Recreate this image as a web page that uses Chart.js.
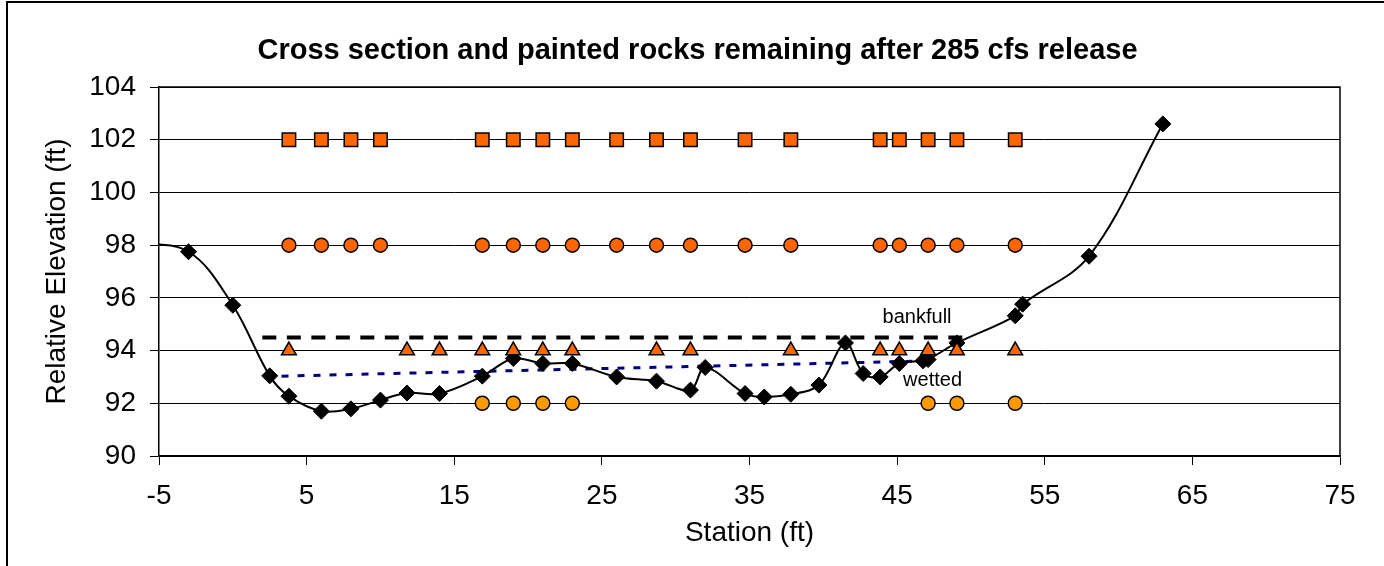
<!DOCTYPE html>
<html>
<head>
<meta charset="utf-8">
<title>Cross section and painted rocks</title>
<script src="https://cdn.jsdelivr.net/npm/chart.js@4/dist/chart.umd.min.js"></script>
<style>
  html, body { margin: 0; padding: 0; background: #fff; }
  #chart { display: block; }
</style>
</head>
<body>
<canvas id="chart" width="1384" height="566"></canvas>
<script>
// Surveyed cross section (station ft / relative elevation ft)
const groundStation = [-7, -3, 0, 2.5, 3.8, 6, 8, 10, 11.8, 14, 16.9, 19, 21, 23, 26, 28.7, 31, 32, 34.7, 36,
  37.8, 39.7, 41.5, 42.7, 43.85, 45.15, 46.75, 47.1, 49.05, 53, 53.5, 58, 63];
const groundElev = [98.1, 97.75, 95.72, 93.04, 92.27, 91.7, 91.79, 92.12, 92.39, 92.37, 93.03, 93.7, 93.51, 93.51, 93.0, 92.84, 92.5, 93.36, 92.37, 92.24,
  92.34, 92.69, 94.29, 93.13, 93.0, 93.51, 93.61, 93.66, 94.29, 95.32, 95.76, 97.58, 102.6];

// Painted rocks still in place, plotted in rows
const rockRowElev = [102, 98, 94, 92];
const rocksRow102 = [3.8, 6, 8, 10, 16.9, 19, 21, 23, 26, 28.7, 31, 34.7, 37.8, 43.85, 45.15, 47.1, 49.05, 53];
const rocksRow98 = [3.8, 6, 8, 10, 16.9, 19, 21, 23, 26, 28.7, 31, 34.7, 37.8, 43.85, 45.15, 47.1, 49.05, 53];
const rocksRow94 = [3.8, 11.8, 14, 16.9, 19, 21, 23, 28.7, 31, 37.8, 43.85, 45.15, 47.1, 49.05, 53];
const rocksRow92 = [16.9, 19, 21, 23, 47.1, 49.05, 53];

// Water surface lines
const bankfullStation = [2.0, 49.5];
const bankfullElev = [94.5, 94.5];
const wettedStation = [3.3, 46.4];
const wettedElev = [93.03, 93.6];

// Axis ranges
const xTicks = { min: -5, max: 75, step: 10 };
const yTicks = { min: 90, max: 104, step: 2 };

const FONT = "'Liberation Sans', Arial, Helvetica, sans-serif";

function pairs(xs, ys) {
  return xs.map((x, i) => ({ x, y: Array.isArray(ys) ? ys[i] : ys }));
}

function rockSet(xs, elev, style, color, radius) {
  return {
    data: pairs(xs, elev),
    showLine: false,
    pointStyle: style,
    pointRadius: radius,
    pointBackgroundColor: color,
    pointBorderColor: '#000',
    pointBorderWidth: 1.5,
    order: 1
  };
}

// outer frame, plot frame and the two line labels
const framePlugin = {
  id: 'frame',
  beforeDraw(chart) {
    const ctx = chart.ctx;
    ctx.save();
    ctx.fillStyle = '#fff';
    ctx.fillRect(0, 0, chart.width, chart.height);
    ctx.strokeStyle = '#000';
    ctx.lineWidth = 2;
    ctx.beginPath();
    ctx.moveTo(7, chart.height);
    ctx.lineTo(7, 2);
    ctx.lineTo(chart.width, 2);
    ctx.stroke();
    ctx.restore();
  },
  beforeDatasetsDraw(chart) {
    const { ctx, chartArea } = chart;
    ctx.save();
    ctx.strokeStyle = '#000';
    ctx.lineWidth = 1.5;
    ctx.beginPath();
    ctx.moveTo(chartArea.left, chartArea.top);
    ctx.lineTo(chartArea.right, chartArea.top);
    ctx.lineTo(chartArea.right, chartArea.bottom);
    ctx.stroke();
    ctx.restore();
  },
  afterDatasetsDraw(chart) {
    const { ctx, scales } = chart;
    ctx.save();
    ctx.fillStyle = '#000';
    ctx.font = '20px ' + FONT;
    ctx.textAlign = 'center';
    ctx.textBaseline = 'middle';
    ctx.fillText('bankfull', scales.x.getPixelForValue(46.35), scales.y.getPixelForValue(95.27));
    ctx.fillText('wetted', scales.x.getPixelForValue(47.4), scales.y.getPixelForValue(92.87));
    ctx.restore();
  }
};

const ctx = document.getElementById('chart').getContext('2d');
new Chart(ctx, {
  type: 'scatter',
  data: {
    datasets: [
      {
        label: 'Ground',
        data: pairs(groundStation, groundElev),
        showLine: true,
        borderColor: '#000',
        borderWidth: 2,
        tension: 0.35,
        pointStyle: 'rectRot',
        pointRadius: (c) => (c.raw && c.raw.x < xTicks.min ? 0 : 8),
        pointBackgroundColor: '#000',
        pointBorderColor: '#000',
        pointBorderWidth: 1,
        order: 2
      },
      {
        label: 'Bankfull',
        data: pairs(bankfullStation, bankfullElev),
        showLine: true,
        borderColor: '#000',
        borderWidth: 4,
        borderDash: [14, 10.5],
        pointRadius: 0,
        order: 4
      },
      {
        label: 'Wetted',
        data: pairs(wettedStation, wettedElev),
        showLine: true,
        borderColor: '#000080',
        borderWidth: 3,
        borderDash: [7, 9],
        pointRadius: 0,
        order: 3
      },
      rockSet(rocksRow102, rockRowElev[0], 'rect', '#FF6600', 9.5),
      rockSet(rocksRow98, rockRowElev[1], 'circle', '#FF6600', 7),
      rockSet(rocksRow94, rockRowElev[2], 'triangle', '#FF6600', 8.5),
      rockSet(rocksRow92, rockRowElev[3], 'circle', '#FF9900', 7)
    ]
  },
  options: {
    responsive: false,
    animation: false,
    events: [],
    layout: { padding: { left: 55, right: 44, top: 0, bottom: 0 } },
    plugins: {
      legend: { display: false },
      tooltip: { enabled: false },
      title: {
        display: true,
        text: 'Cross section and painted rocks remaining after 285 cfs release',
        color: '#000',
        font: { family: FONT, size: 29, weight: 'bold' },
        padding: { top: 34, bottom: 18.2 }
      }
    },
    scales: {
      x: {
        type: 'linear',
        min: xTicks.min,
        max: xTicks.max,
        afterFit: (s) => { s.height = 110; },
        ticks: {
          stepSize: xTicks.step,
          color: '#000',
          padding: 14,
          font: { family: FONT, size: 28 }
        },
        grid: { drawOnChartArea: false, drawTicks: true, tickLength: 9, color: '#000', lineWidth: 1 },
        border: { color: '#000', width: 1.5 },
        title: {
          display: true,
          text: 'Station (ft)',
          color: '#000',
          font: { family: FONT, size: 28 },
          padding: { top: 0, bottom: 16 }
        }
      },
      y: {
        type: 'linear',
        min: yTicks.min,
        max: yTicks.max,
        afterFit: (s) => { s.width = 104; },
        ticks: {
          stepSize: yTicks.step,
          color: '#000',
          padding: 14,
          font: { family: FONT, size: 28 }
        },
        grid: { drawTicks: true, tickLength: 9, color: '#000', lineWidth: 1 },
        border: { color: '#000', width: 1.5 },
        title: {
          display: true,
          text: 'Relative Elevation (ft)',
          color: '#000',
          font: { family: FONT, size: 28 },
          padding: { top: -15, bottom: 0 }
        }
      }
    }
  },
  plugins: [framePlugin]
});
</script>
</body>
</html>
